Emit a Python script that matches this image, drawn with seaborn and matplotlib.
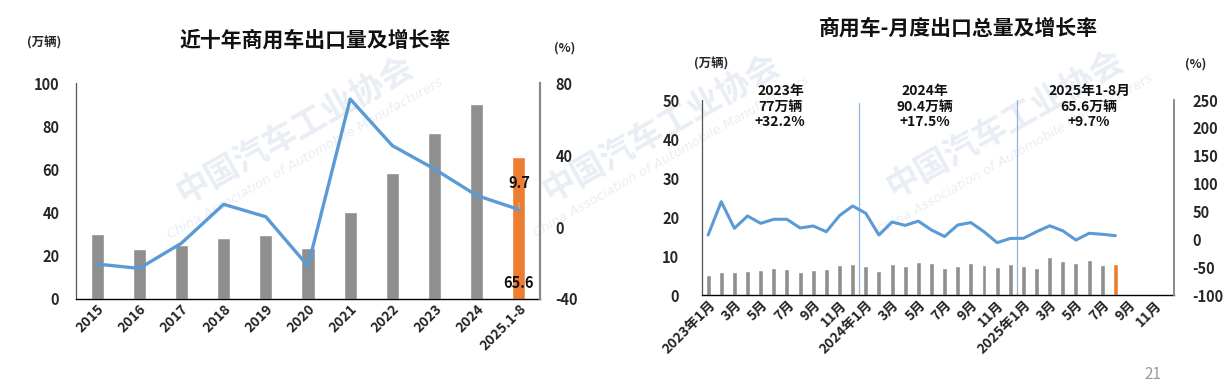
import numpy as np
import pandas as pd
import matplotlib
matplotlib.use("Agg")
import matplotlib.pyplot as plt
import seaborn as sns

# ---------------- data ----------------
years = ["2015", "2016", "2017", "2018", "2019", "2020", "2021", "2022", "2023", "2024", "2025.1-8"]
year_volume = [30.0, 23.0, 25.2, 28.2, 29.8, 23.4, 40.1, 58.2, 77.0, 90.4, 65.6]
year_growth = [-20.6, -23.0, -9.0, 12.6, 5.7, -21.7, 71.1, 45.2, 32.2, 17.5, 9.7]

month_labels = ([f"2023年{m}月" if m == 1 else f"{m}月" for m in range(1, 13)] +
                [f"2024年{m}月" if m == 1 else f"{m}月" for m in range(1, 13)] +
                [f"2025年{m}月" if m == 1 else f"{m}月" for m in range(1, 13)])
month_keys = [f"{y}-{m:02d}" for y in (2023, 2024, 2025) for m in range(1, 13)]
month_volume = [5.1, 5.9, 5.9, 6.2, 6.4, 6.9, 6.7, 5.9, 6.4, 6.7, 7.7, 8.0,
                7.4, 6.2, 8.0, 7.4, 8.5, 8.2, 6.9, 7.4, 8.2, 7.7, 7.2, 8.0,
                7.4, 6.9, 9.7, 8.7, 8.2, 8.9, 7.7, 8.0]
month_growth = [7.7, 67.5, 19.7, 41.8, 28.7, 35.9, 35.9, 20.3, 23.9, 13.6, 42.5, 59.8,
                46.7, 7.7, 31.0, 25.0, 32.6, 16.7, 5.0, 25.7, 30.0, 13.6, -6.1, 1.5,
                1.8, 13.6, 24.2, 15.2, -1.3, 10.8, 9.0, 6.5]
year_notes = ["2023年\n77万辆\n+32.2%", "2024年\n90.4万辆\n+17.5%", "2025年1-8月\n65.6万辆\n+9.7%"]

GRAY = "#8F8F8F"
ORANGE = "#ED7D31"
BLUE = "#5B9BD5"

sns.set_theme(style="white")
plt.rcParams["font.family"] = ["Noto Sans CJK SC", "DejaVu Sans"]
plt.rcParams["axes.unicode_minus"] = False

fig = plt.figure(figsize=(12.31, 3.87), dpi=100)
fig.patch.set_facecolor("white")

# faint watermark (behind the charts)
W = 1231.0
H = 387.0
for (bx, by), (ex, ey) in [((295, 130), (305, 159)), ((661, 128), (671, 157)), ((1005, 124), (1015, 155))]:
    fig.text(bx / W, 1 - by / H, "中国汽车工业协会", ha="center", va="center", rotation=29.5,
             fontsize=24, fontweight="bold", color="#E9EEF5", zorder=-5)
    fig.text(ex / W, 1 - ey / H, "China Association of Automobile Manufacturers", ha="center",
             va="center", rotation=29.5, fontsize=9.5, style="italic", color="#E9EEF5", zorder=-5,
             family=["DejaVu Sans"])

# ---------------- left chart ----------------
axL = fig.add_axes([0.0617, 0.2274, 0.3770, 0.5581])
axL.patch.set_visible(False)
dfy = pd.DataFrame({"year": years, "volume": year_volume})
ycolors = {y: (ORANGE if i == len(years) - 1 else GRAY) for i, y in enumerate(years)}
sns.barplot(data=dfy, x="year", y="volume", hue="year", palette=ycolors,
            width=0.31, legend=False, ax=axL, saturation=1)
axL.set_xlim(-0.5, len(years) - 0.5)
axL.set_ylim(0, 100)
axL.set_yticks([0, 20, 40, 60, 80, 100])
axL.set_xlabel("")
axL.set_ylabel("")
axL2 = axL.twinx()
sns.lineplot(x=np.arange(len(years)), y=year_growth, color=BLUE, lw=2.4, ax=axL2)
axL2.set_ylim(-40, 80)
axL2.set_yticks([-40, 0, 40, 80])
axL2.set_ylabel("")

for a in (axL, axL2):
    for s in a.spines.values():
        s.set_visible(False)
axL.spines["left"].set_visible(True)
axL.spines["left"].set_color("#555555")
axL.spines["left"].set_linewidth(0.9)
axL.spines["bottom"].set_visible(True)
axL.spines["bottom"].set_color("#000000")
axL.spines["bottom"].set_linewidth(1.0)
axL2.spines["right"].set_visible(True)
axL2.spines["right"].set_color("#8a8a8a")
axL2.spines["right"].set_linewidth(1.6)

axL.tick_params(axis="y", length=0, pad=12, labelsize=10.5)
axL2.tick_params(axis="y", length=0, pad=11, labelsize=10.5)
axL.tick_params(axis="x", length=0, pad=2, labelsize=10)
for lab in axL.get_yticklabels() + axL2.get_yticklabels():
    lab.set_fontweight("bold")
for lab in axL.get_xticklabels():
    lab.set_rotation(45)
    lab.set_ha("right")
    lab.set_rotation_mode("anchor")
    lab.set_fontweight("bold")

last = len(years) - 1
axL2.annotate(f"{year_growth[last]:.1f}", xy=(last, year_growth[last]), xytext=(last, 24.4),
              ha="center", va="center", fontsize=10.5, fontweight="bold", color="#111111",
              arrowprops=dict(arrowstyle="-", color="#b0b0b0", lw=1.0, shrinkA=6, shrinkB=1))
axL.text(last, 7.4, f"{year_volume[last]:.1f}", ha="center", va="center",
         fontsize=10.5, fontweight="bold", color="#111111")

fig.text(0.2559, 0.897, "近十年商用车出口量及增长率", ha="center", va="center",
         fontsize=15, fontweight="bold", color="#111111")
fig.text(0.0357, 0.889, "(万辆)", ha="center", va="center", fontsize=9, fontweight="bold")
fig.text(0.459, 0.876, "(%)", ha="center", va="center", fontsize=9, fontweight="bold")

# ---------------- right chart ----------------
axR = fig.add_axes([0.5699, 0.2377, 0.3842, 0.5039])
axR.patch.set_visible(False)
dfm = pd.DataFrame({"month": month_keys[:len(month_volume)], "volume": month_volume})
mcolors = {k: (ORANGE if i == len(month_volume) - 1 else GRAY)
           for i, k in enumerate(month_keys[:len(month_volume)])}
sns.barplot(data=dfm, x="month", y="volume", hue="month", palette=mcolors, order=month_keys,
            width=0.38, legend=False, ax=axR, saturation=1)
axR.set_xlim(-0.5, len(month_keys) - 0.5)
axR.set_ylim(0, 50)
axR.set_yticks([0, 10, 20, 30, 40, 50])
axR.set_xlabel("")
axR.set_ylabel("")
axR.set_xticks(np.arange(0, len(month_keys), 2))
axR.set_xticklabels(month_labels[::2])

axR.axvline(11.5, ymin=0, ymax=0.985, color="#8FB4DE", lw=0.9)
axR.axvline(23.5, ymin=0, ymax=1.0, color="#8FB4DE", lw=0.9)

axR2 = axR.twinx()
sns.lineplot(x=np.arange(len(month_growth)), y=month_growth, color=BLUE, lw=2.2, ax=axR2)
axR2.set_ylim(-100, 250)
axR2.set_yticks([-100, -50, 0, 50, 100, 150, 200, 250])
axR2.set_ylabel("")

for a in (axR, axR2):
    for s in a.spines.values():
        s.set_visible(False)
axR.spines["left"].set_visible(True)
axR.spines["left"].set_color("#555555")
axR.spines["left"].set_linewidth(0.9)
axR.spines["bottom"].set_visible(True)
axR.spines["bottom"].set_color("#000000")
axR.spines["bottom"].set_linewidth(1.0)
axR2.spines["right"].set_visible(True)
axR2.spines["right"].set_color("#8a8a8a")
axR2.spines["right"].set_linewidth(1.4)

axR.tick_params(axis="y", length=0, pad=16, labelsize=10.5)
axR2.tick_params(axis="y", length=0, pad=13, labelsize=10.5)
axR.tick_params(axis="x", length=0, pad=2, labelsize=10)
for lab in axR.get_yticklabels() + axR2.get_yticklabels():
    lab.set_fontweight("bold")
for lab in axR.get_xticklabels():
    lab.set_rotation(45)
    lab.set_ha("right")
    lab.set_rotation_mode("anchor")
    lab.set_fontweight("bold")

for xpos, note in zip([5.5, 16.5, 29.0], year_notes):
    axR.text(xpos, 0.965, note, transform=axR.get_xaxis_transform(), ha="center", va="center",
             fontsize=10, fontweight="bold", color="#111111", linespacing=1.15)

fig.text(0.7782, 0.928, "商用车-月度出口总量及增长率", ha="center", va="center",
         fontsize=15, fontweight="bold", color="#111111")
fig.text(0.5776, 0.835, "(万辆)", ha="center", va="center", fontsize=9, fontweight="bold")
fig.text(0.9716, 0.835, "(%)", ha="center", va="center", fontsize=9, fontweight="bold")

fig.text(0.9366, 0.033, "21", ha="center", va="center", fontsize=11, color="#9a9a9a")

fig.savefig("out.png", dpi=100, facecolor="white")
